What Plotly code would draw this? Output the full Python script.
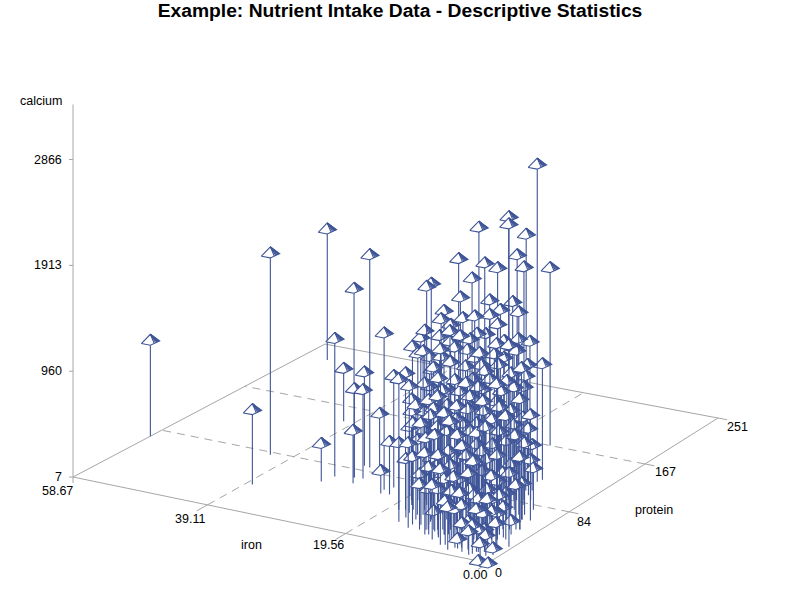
import plotly.graph_objects as go

# Nutrient intake observations: iron (mg), protein (g), calcium (mg)
iron = [58.67,38.2,42.0,55,28.9,28.8,31,40.6,28.7,27.6,29.8,23.3,28.1,27.8,31.5,23,22.7,16.1,17.5,19,
        8.5,13.5,8.3,13.3,8.4,18,11.5,12.4,15.3,9.2,12.9,6.8,8.8,16.5,16.1,
        12.6,10.4,12.9,10.9,16,4.8,6,9.8,13.8,6.2,17.8,7,17.2,10.3,17.3,10.8,12.4,8.4,9.9,9,12.7,14.5,21,3.8,
        11.1,14.8,12.1,13.5,4.7,8.2,18.4,14.6,7.7,9.4,11.2,9.6,3.7,9.4,17.3,5,12.1,4.4,11.5,16.6,15.5,2.1,
        10.1,9.4,14.7,20.1,18.6,10.7,6.5,10.5,2.2,13.7,16.5,3.5,17.7,7.9,11.5,17.2,2.6,7.8,19.6,12.4,7.8,
        13.3,9.2,13.2,5.9,2,18.9,7.1,5,21.9,18.2,14.1,11.9,6.5,7.5,8.4,6.1,7.5,6,4.1,13.1,16.1,8.8,11.3,4.5,
        6.5,14.3,12.6,10.2,9.3,3.5,8.3,4,6.5,3.6,9.8,11.7,7.6,6.5,5.6,4.5,4,7.4,4.2,11.1,5.9,4.2,3.5,2.9,2.3,
        5.5,3.3,2.5,1.8,1.4,0,0.8,
        17.9,15.4,12.3,8.7,9.7,7.3,11.7,14.7,12.5,12.8,9.8,6.1,6.5,7,6.6,6.1,16.7,12.8,9.2,8.8,8.4,5.1,3.5,4,6,
        15.4,10.7,11.5,7,7.3,4.1,5.2,4.3,4.2,14.2,11.2,9.3,9.4,6.9,5.3,2.9,3.3,2.2,10.8,7.9,7.4,4.5,6.1,4.5,2.6,
        9.6,9.2,5.9,5.3,2.2,3.5,6.3,5.2,3,2.6,2.6,3.1,2.8,4.5,1.7,1.4,0.5,7.5,8.2,10.5]
protein = [73,37,80.3,228,89.6,73,69,145,72.6,73.6,90.5,64.5,94,65,59,59,70,28,44.7,62.5,
           115,167,119,121,84,175,76,123,83,65,106,88,49,63.6,56,
           65,79,122,94,73,67.5,31,47,54,48,93,62,62,37.5,78,69,90,34,55,98.5,139,68.6,85.4,37,
           110,43,41,79,26.5,67.5,75.5,60,44,31.5,60,113,62,81,70,34,74,52,34.5,42,49.5,24.6,
           46,64.5,68,88,58.6,28,30,86.6,49,45.7,80,21,52.4,27,67.5,62,63,85,64,40.5,19,
           30,56.7,72,48,33,74,95,26,60,43,23,25,22,44,67,64.5,102,89,77.5,39,35,25,52,18.5,
           47,36,23.5,29.5,40,29.5,50.5,45,72,62,22,25.7,19.5,30,40.7,52,20,11.5,36,27,10.3,11,21,31,40.7,
           10,5,15,5.4,0.5,0,11,
           60,58,57,58,88.6,78,125,35,32,48,38.7,23,38.5,54,63,72.5,46.7,36,23.7,33,42,33.7,37.7,53,81,
           41.5,25,43,21,36.5,28,50,60,69,28,18.7,18.5,31.5,29,33,31,46.5,49,19.7,10.3,20,13.6,39.5,43.5,48,
           14.5,23.7,15.3,25,16,37.7,6,12,10.6,23.3,35,7.2,11,7,20.6,8.2,25,85.5,100.5,95]
calcium = [871,682,1825,1186,1924,1708,1249,484,808,808,853,1420,484,484,349,214,1015,1294,1240,1366,
           2866,1609,1051,2302,2491,1816,2464,1960,2095,2230,1924,2104,2185,1960,1978,
           1879,1807,1537,1636,1672,1834,1978,1825,1726,1897,1420,1726,1537,1753,1402,1555,1420,1753,1591,1375,1096,1438,1303,1726,
           1213,1483,1546,1321,1690,1411,1213,1348,1510,1519,1303,1060,1375,1231,1141,1483,1105,1303,1330,1150,1150,1456,
           1168,1096,1006,862,916,1213,1258,853,1186,970,781,1303,853,1168,898,808,961,691,628,853,1078,
           925,835,700,961,1123,556,610,970,484,610,772,835,853,736,601,673,421,376,385,565,538,763,511,763,
           601,421,421,511,421,583,466,520,421,340,421,376,448,421,376,295,421,403,331,178,358,268,295,250,133,
           97,223,196,133,7,7,70,
           1330,1249,1474,1357,1249,1195,772,1042,1132,1132,1312,1420,1294,1276,1123,1114,790,970,1105,1006,1051,1123,1159,1042,799,
           682,880,808,952,898,1024,853,772,655,619,745,754,592,727,763,772,520,664,619,691,574,682,538,448,412,
           502,511,475,412,466,367,394,394,394,313,286,268,214,268,232,196,1825,1357,1042,1357]

iron_ticks = [58.67, 39.11, 19.56, 0.0]
iron_tick_labels = ["58.67", "39.11", "19.56", "0.00"]
protein_ticks = [0, 84, 167, 251]
calcium_ticks = [7, 960, 1913, 2866]

IRON_MAX, PROTEIN_MAX = 58.67, 251.0
CA_MIN, CA_MAX, CA_AXIS_TOP = 7.0, 2866.0, 3361.0
INK = "#3f5597"
FRAME = "#a6a6a6"
GRID = "#a6a6a6"

# floor plane: perspective map from (iron, protein) fractions to page pixels
G, H = 0.04355, 0.0839
A, B, C0 = -411.8, 290.2, 488.0
D, E, F0 = -65.2, -109.9, 563.0
CA_PX = (477.5 - 160.0) / (CA_MAX - CA_MIN)


def floor(i, p):
    u, v = i / IRON_MAX, p / PROTEIN_MAX
    w = G * u + H * v + 1
    return (A * u + B * v + C0) / w, (D * u + E * v + F0) / w


def lift(c):
    return (c - CA_MIN) * CA_PX


def seg(x0, y0, x1, y1, color, dash=None, width=1):
    return go.Scatter(x=[x0, x1], y=[y0, y1], mode="lines", hoverinfo="skip",
                      line=dict(color=color, width=width, dash=dash))


fig = go.Figure()

# solid outer edges of the floor
for a, b in [((IRON_MAX, 0), (0, 0)), ((0, 0), (0, PROTEIN_MAX)),
             ((0, PROTEIN_MAX), (IRON_MAX, PROTEIN_MAX)), ((IRON_MAX, PROTEIN_MAX), (IRON_MAX, 0))]:
    fig.add_trace(seg(*floor(*a), *floor(*b), FRAME))

# dashed reference lines and short ticks on the front edges
for t in iron_ticks[1:3]:
    fig.add_trace(seg(*floor(t, 0), *floor(t, PROTEIN_MAX), GRID, dash="8px,6px"))
for t in protein_ticks[1:3]:
    fig.add_trace(seg(*floor(0, t), *floor(IRON_MAX, t), GRID, dash="8px,6px"))
for t in iron_ticks[1:]:
    fig.add_trace(seg(*floor(t, 0), *floor(t, -10), FRAME))
for t in protein_ticks[1:]:
    fig.add_trace(seg(*floor(0, t), *floor(-1.3, t), FRAME))

# vertical calcium axis at the left corner
ax, ay = floor(IRON_MAX, 0)
fig.add_trace(seg(ax, ay + 6, ax, ay - lift(CA_AXIS_TOP), FRAME))
for t in calcium_ticks:
    fig.add_trace(seg(ax - 4, ay - lift(t), ax, ay - lift(t), FRAME))


def pin(i, p, c):
    """Needle from the floor to a pyramid centred on the calcium value."""
    bx, by = floor(i, p)
    cy = by - lift(c)
    apex = (bx, cy - 6)
    left = (bx - 9, cy + 3.3)
    front = (bx, cy + 5)
    right = (bx + 9.3, cy + 0.7)
    xs, ys = [], []
    if by > front[1]:
        xs += [bx, bx, None]
        ys += [by, front[1], None]
    # left face, then the outline of the right face without the shared ridge
    xs += [apex[0], left[0], front[0], right[0], apex[0], None]
    ys += [apex[1], left[1], front[1], right[1], apex[1], None]
    # shading strokes fanning across the right face
    for t in (0.42, 0.58, 0.7, 0.8, 0.88, 0.94):
        xs += [apex[0], front[0] + t * (right[0] - front[0]), None]
        ys += [apex[1], front[1] + t * (right[1] - front[1]), None]
    return go.Scatter(x=xs, y=ys, mode="lines", fill="toself", fillcolor="white",
                      hoverinfo="skip", line=dict(color=INK, width=1.1))


# painted from the far side of the floor to the near side
order = sorted(range(len(iron)), key=lambda k: floor(iron[k], protein[k])[1])
for k in order:
    fig.add_trace(pin(iron[k], protein[k], calcium[k]))


def label(x, y, text, anchor="center"):
    fig.add_annotation(x=x, y=y, text=text, showarrow=False, xanchor=anchor, yanchor="middle",
                       font=dict(family="Liberation Sans", size=12.5, color="black"))


label(63.5, 101, "calcium", "right")
for t in calcium_ticks:
    label(63.5, ay - lift(t), str(t), "right")
for t, s, off in zip(iron_ticks, iron_tick_labels, [(-16, 14), (-17, 14), (-17, 11), (-13, 12)]):
    fx, fy = floor(t, 0)
    label(fx + off[0], fy + off[1], s)
for t, off in zip(protein_ticks, [(10, 10), (15, 10), (20, 8), (20, 9)]):
    fx, fy = floor(0, t)
    label(fx + off[0], fy + off[1], str(t))
label(251, 545, "iron")
label(654, 510, "protein")

fig.update_layout(
    width=800, height=600, margin=dict(l=0, r=0, t=0, b=0),
    paper_bgcolor="white", plot_bgcolor="white", showlegend=False,
    title=dict(text="<b>Example: Nutrient Intake Data - Descriptive Statistics</b>",
               x=0.5, xanchor="center", y=0.983, yanchor="middle",
               font=dict(family="Liberation Sans", size=19.25, color="black")),
    xaxis=dict(range=[0, 800], visible=False),
    yaxis=dict(range=[600, 0], visible=False),
)
fig.write_html("out.html")
